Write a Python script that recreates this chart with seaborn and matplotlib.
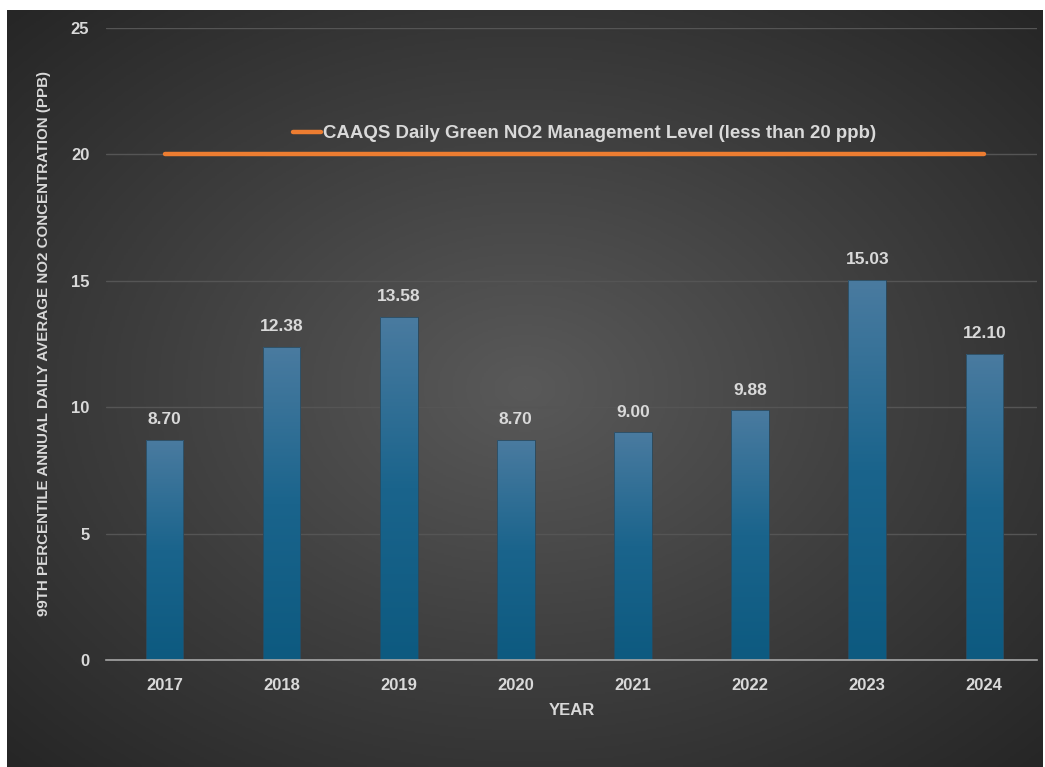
import numpy as np
import pandas as pd
import matplotlib
matplotlib.use("Agg")
import matplotlib.pyplot as plt
from matplotlib.colors import LinearSegmentedColormap
from matplotlib.lines import Line2D
import seaborn as sns

years = ["2017", "2018", "2019", "2020", "2021", "2022", "2023", "2024"]
no2_99th = [8.70, 12.38, 13.58, 8.70, 9.00, 9.88, 15.03, 12.10]
management_level = [20, 20, 20, 20, 20, 20, 20, 20]
y_ticks = [0, 5, 10, 15, 20, 25]
legend_label = "CAAQS Daily Green NO2 Management Level (less than 20 ppb)"
y_title = "99TH PERCENTILE ANNUAL DAILY AVERAGE NO2 CONCENTRATION (PPB)"
x_title = "YEAR"

df = pd.DataFrame({"year": years, "value": no2_99th, "level": management_level})

sns.set_theme(style="white")
plt.rcParams["font.family"] = ["Liberation Sans", "DejaVu Sans"]
plt.rcParams["font.weight"] = "bold"

W, H = 1045, 767
fig = plt.figure(figsize=(W / 100, H / 100), dpi=100, facecolor="white")

# Radial-gradient panel behind the chart
bg = fig.add_axes([7 / W, 0, (W - 9) / W, (H - 10) / H])
bg.set_axis_off()
gy, gx = np.mgrid[0:1:400j, 0:1:560j]
r = np.sqrt(((gx - 0.5) / 0.75) ** 2 + ((gy - 0.5) / 0.75) ** 2)
r = np.clip(r / 0.95, 0, 1)
bg_cmap = LinearSegmentedColormap.from_list("bgc", ["#595959", "#3f3f3f", "#262626"])
bg.imshow(r, cmap=bg_cmap, aspect="auto", extent=[0, 1, 0, 1], interpolation="bilinear")
bg.set_xlim(0, 1)
bg.set_ylim(0, 1)

ax = fig.add_axes([106 / W, 1 - 660 / H, 931 / W, 632 / H])
ax.patch.set_alpha(0)

sns.barplot(data=df, x="year", y="value", width=0.32, color="#2f6f96",
            ax=ax, zorder=3, saturation=1)

# Vertical gradient fill for each bar
bar_cmap = LinearSegmentedColormap.from_list("barc", ["#0d5a80", "#1a648c", "#4a7ba0"])
grad = np.linspace(0, 1, 256).reshape(-1, 1)
for p in ax.patches:
    x0, y0 = p.get_x(), p.get_y()
    w, h = p.get_width(), p.get_height()
    p.set_facecolor("none")
    p.set_edgecolor("#2a4a5e")
    p.set_linewidth(0.6)
    im = ax.imshow(grad, cmap=bar_cmap, origin="lower", aspect="auto",
                   extent=[x0, x0 + w, y0, y0 + h], zorder=2.9,
                   interpolation="bilinear")
    im.set_clip_path(p)

sns.lineplot(data=df, x="year", y="level", ax=ax, color="#ed7d31",
             linewidth=3.2, zorder=4, sort=False)

for i, v in enumerate(no2_99th):
    ax.text(i, v + 0.5, f"{v:.2f}", ha="center", va="bottom",
            fontsize=12.5, fontweight="bold", color="#d9d9d9", zorder=5)

ax.set_xlim(-0.5, 7.45)
ax.set_ylim(0, 25)
ax.set_yticks(y_ticks)
ax.set_yticklabels([str(t) for t in y_ticks])
ax.grid(axis="y", color="#555555", linewidth=1.0, zorder=0)
ax.grid(axis="x", visible=False)
for s in ["top", "right", "left"]:
    ax.spines[s].set_visible(False)
ax.spines["bottom"].set_color("#a6a6a6")
ax.spines["bottom"].set_linewidth(1.2)
ax.spines["bottom"].set_zorder(4)
ax.tick_params(axis="both", length=0, colors="#d9d9d9", labelsize=12)
ax.tick_params(axis="x", pad=13)
ax.tick_params(axis="y", pad=12)
for lbl in ax.get_xticklabels() + ax.get_yticklabels():
    lbl.set_fontweight("bold")

ax.set_xlabel(x_title, fontsize=12, fontweight="bold", color="#d9d9d9", labelpad=7)
ax.set_ylabel(y_title, fontsize=10.9, fontweight="bold", color="#d9d9d9", labelpad=14)

handle = Line2D([0], [0], color="#ed7d31", linewidth=3.2)
leg = ax.legend([handle], [legend_label], loc="center", bbox_to_anchor=(0.514, 0.833),
                frameon=False, handlelength=1.5, handletextpad=0.1,
                prop={"size": 13.4, "weight": "bold"})
for t in leg.get_texts():
    t.set_color("#d9d9d9")

fig.savefig("out.png", dpi=100, facecolor="white")
